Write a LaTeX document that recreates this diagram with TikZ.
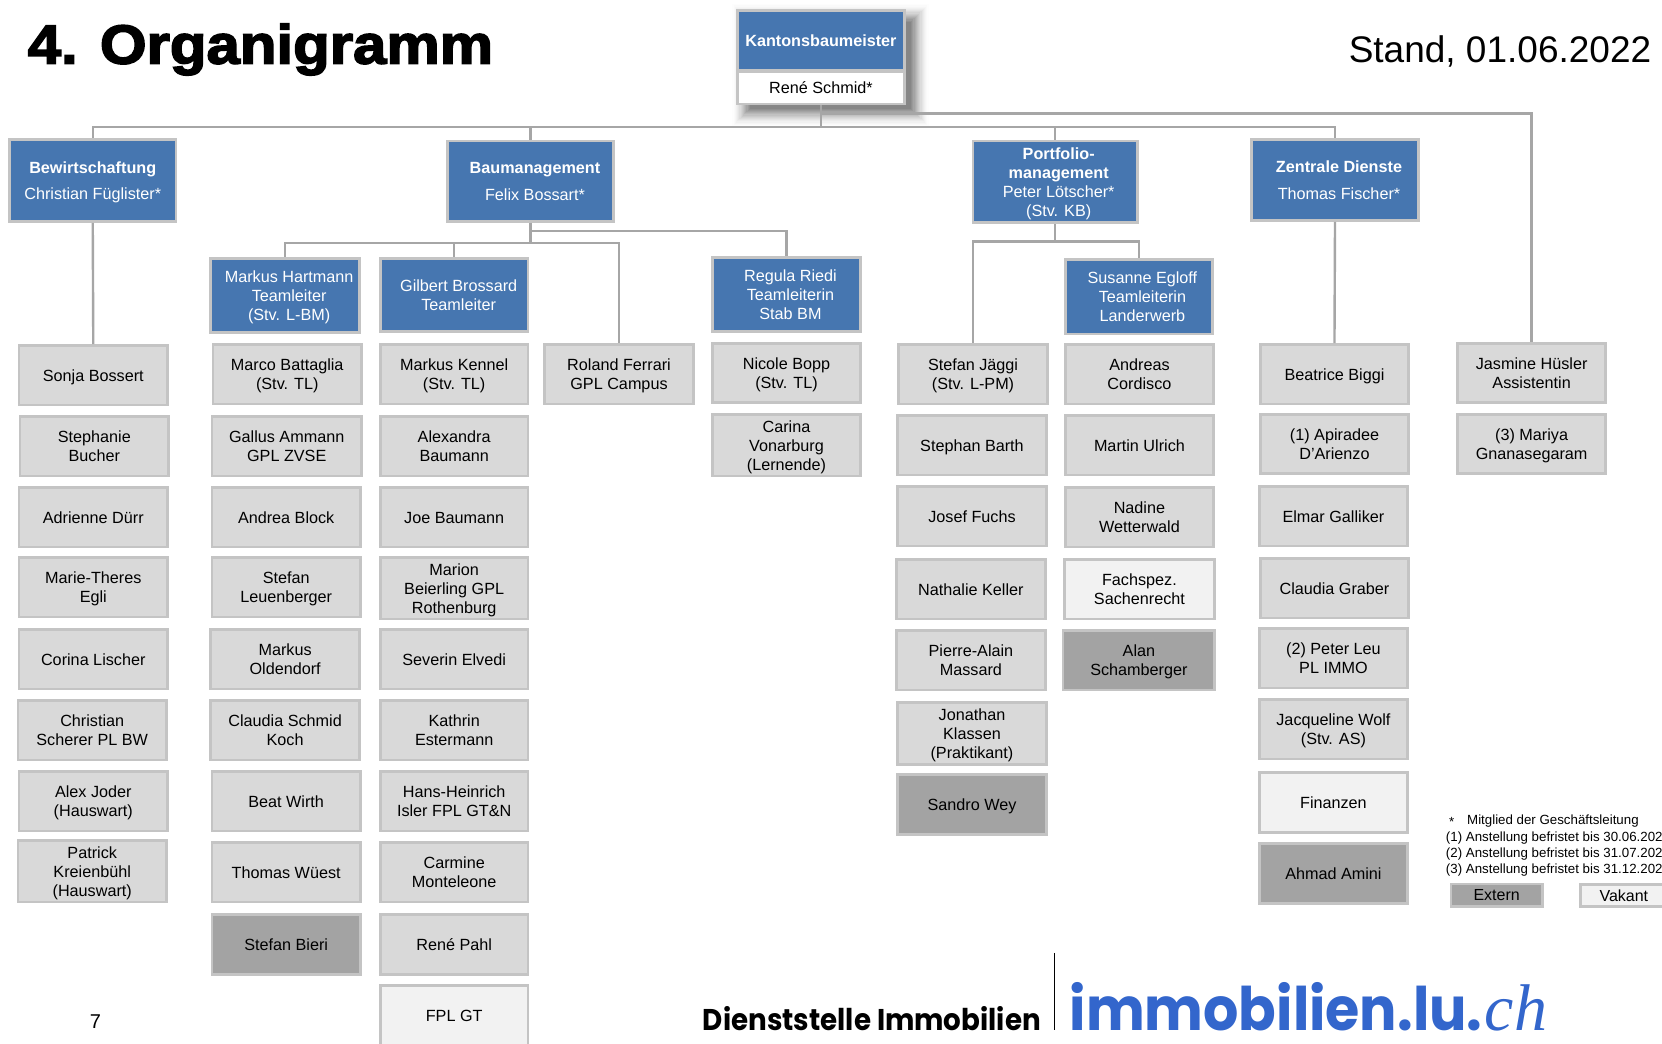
\documentclass[tikz,border=0pt]{standalone}
\usepackage{fontspec}
\setmainfont{Liberation Sans}
\newfontfamily\titlefont{Liberation Sans}[FakeStretch=1.09,FakeBold=3]
\newfontfamily\logofont{Poppins}[FakeStretch=0.925]
\newfontfamily\logoserif{Liberation Serif}
\definecolor{orgblue}{HTML}{4676B0}
\definecolor{orgedge}{HTML}{C4C4C4}
\definecolor{orggrey}{HTML}{D9D9D9}
\definecolor{orgdark}{HTML}{A3A3A3}
\definecolor{orgpale}{HTML}{F2F2F2}
\definecolor{orgline}{HTML}{A6A6A6}
\definecolor{logoblue}{HTML}{3366CC}
\def\toff{0}
\tikzset{
  pbase/.style={draw=orgedge,line width=2.8pt,inner sep=0pt,
    font=\fontsize{16.2}{19.1}\selectfont,text=black},
  gbox/.style={pbase,fill=orggrey},
  bbox/.style={pbase,fill=orgblue,text=white},
  xbox/.style={pbase,fill=orgdark},
  vbox/.style={pbase,fill=orgpale},
  wbox/.style={pbase,fill=white},
  off/.code={\def\toff{#1}},
  conn/.style={draw=orgline,line width=2.4pt},
  legend/.style={inner sep=0pt,anchor=west,font=\fontsize{13.3}{16}\selectfont,text=black}
}
% #1 style, #2 name, #3-#6 outer edges x1,y1,x2,y2, #7 text
\newcommand\pb[7]{%
  \pgfmathsetmacro\pbw{(#5-#3)*1.05995-2.0}%
  \pgfmathsetmacro\pbh{(#6-#4)*1.05995-2.0}%
  \node[#1,minimum width=\pbw pt,minimum height=\pbh pt] (#2)
    at ({(#3+#5)/2},{(#4+#6)/2})
    {\vbox{\kern4.2pt\hbox{\kern\toff pt\begin{tabular}{@{}c@{}}#7\end{tabular}}}};}
\begin{document}
\begin{tikzpicture}[x=1.05995pt,y=-1.05995pt]
\useasboundingbox (0,0) rectangle (1568,984.9);
\clip (0,0) rectangle (1568,984.9);
\fill[white] (0,0) rectangle (1568,984.9);
% shadow of the top box
\foreach \i in {0,...,15}{
  \pgfmathsetmacro\sop{.008+.004*\i}
  \fill[black,opacity=\sop] ({691+\i*1.1},{4+\i*1.1}) rectangle ({876-\i*1.1},{119-\i*1.1});
}
% title / header
\node[inner sep=0pt,anchor=base west,font=\titlefont\bfseries\fontsize{55}{60}\selectfont] (title) at (26,60) {4. Organigramm};
\node[inner sep=0pt,anchor=east,font=\fontsize{37}{44}\selectfont] (stand) at (1558,49) {Stand, 01.06.2022};
% top box
\pb{bbox,font=\bfseries\fontsize{16.2}{19.1}\selectfont}{kb}{695}{9}{854}{67}{Kantonsbaumeister}
\pb{wbox}{kbn}{695}{67}{854}{99}{René Schmid*}
% heads
\pb{bbox}{bew}{8}{131}{167}{210}{\textbf{Bewirtschaftung}\\[7.5pt]Christian Füglister*}
\pb{bbox,off=9}{baum}{421}{132}{580}{210}{\textbf{Baumanagement}\\[7.5pt]Felix Bossart*}
\pb{bbox,off=7}{port}{917}{132}{1074}{211}{\textbf{Portfolio-}\\\textbf{management}\\Peter Lötscher*\\(Stv. KB)}
\pb{bbox,off=8}{zd}{1180}{131}{1339}{209}{\textbf{Zentrale Dienste}\\[7.5pt]Thomas Fischer*}
\pb{bbox,off=8}{hart}{198}{243}{340}{315}{Markus Hartmann\\Teamleiter\\(Stv. L-BM)}
\pb{bbox,off=9}{gil}{358}{243}{499}{314}{Gilbert Brossard\\Teamleiter}
\pb{bbox,off=8}{reg}{671}{242}{813}{314}{Regula Riedi\\Teamleiterin\\Stab BM}
\pb{bbox,off=7}{sus}{1004}{244}{1145}{316}{Susanne Egloff\\Teamleiterin\\Landerwerb}
% column 1
\pb{gbox}{c1a}{17}{325}{159}{383}{Sonja Bossert}
\pb{gbox}{c1b}{18}{392}{160}{450}{Stephanie\\Bucher}
\pb{gbox}{c1c}{17}{459}{159}{517}{Adrienne Dürr}
\pb{gbox}{c1d}{17}{525}{159}{583}{Marie-Theres\\Egli}
\pb{gbox}{c1e}{17}{593}{159}{651}{Corina Lischer}
\pb{gbox}{c1f}{16}{660}{158}{718}{Christian\\Scherer PL BW}
\pb{gbox}{c1g}{17}{727}{159}{785}{Alex Joder\\(Hauswart)}
\pb{gbox}{c1h}{16}{793}{158}{851}{Patrick\\Kreienbühl\\(Hauswart)}
% column 2
\pb{gbox}{c2a}{200}{324}{342}{382}{Marco Battaglia\\(Stv. TL)}
\pb{gbox}{c2b}{199}{392}{342}{450}{Gallus Ammann\\GPL ZVSE}
\pb{gbox}{c2c}{199}{459}{341}{517}{Andrea Block}
\pb{gbox}{c2d}{199}{525}{341}{583}{Stefan\\Leuenberger}
\pb{gbox}{c2e}{198}{593}{340}{651}{Markus\\Oldendorf}
\pb{gbox}{c2f}{198}{660}{340}{718}{Claudia Schmid\\Koch}
\pb{gbox}{c2g}{199}{727}{341}{785}{Beat Wirth}
\pb{gbox}{c2h}{199}{794}{341}{852}{Thomas Wüest}
\pb{xbox}{c2i}{199}{862}{341}{920}{Stefan Bieri}
% column 3
\pb{gbox}{c3a}{358}{324}{499}{382}{Markus Kennel\\(Stv. TL)}
\pb{gbox}{c3b}{358}{392}{499}{450}{Alexandra\\Baumann}
\pb{gbox}{c3c}{358}{459}{499}{517}{Joe Baumann}
\pb{gbox}{c3d}{358}{526}{499}{584}{Marion\\Beierling GPL\\Rothenburg}
\pb{gbox}{c3e}{358}{593}{499}{651}{Severin Elvedi}
\pb{gbox}{c3f}{358}{660}{499}{718}{Kathrin\\Estermann}
\pb{gbox}{c3g}{358}{727}{499}{785}{Hans-Heinrich\\Isler FPL GT\&N}
\pb{gbox}{c3h}{358}{794}{499}{852}{Carmine\\Monteleone}
\pb{gbox}{c3i}{358}{862}{499}{920}{René Pahl}
\pb{vbox}{c3j}{358}{929}{499}{987}{FPL GT}
% column 4, 5
\pb{gbox}{c4a}{513}{324}{655}{382}{Roland Ferrari\\GPL Campus}
\pb{gbox}{c5a}{671}{323}{813}{381}{Nicole Bopp\\(Stv. TL)}
\pb{gbox}{c5b}{671}{391}{813}{449}{Carina\\Vonarburg\\(Lernende)}
% column 6
\pb{gbox}{c6a}{847}{324}{989}{382}{Stefan Jäggi\\(Stv. L-PM)}
\pb{gbox}{c6b}{846}{391}{988}{449}{Stephan Barth}
\pb{gbox}{c6c}{846}{458}{988}{516}{Josef Fuchs}
\pb{gbox}{c6d}{845}{527}{987}{585}{Nathalie Keller}
\pb{gbox}{c6e}{845}{594}{987}{652}{Pierre-Alain\\Massard}
\pb{gbox}{c6f}{846}{663}{988}{721}{Jonathan\\Klassen\\(Praktikant)}
\pb{xbox}{c6g}{846}{730}{988}{788}{Sandro Wey}
% column 7
\pb{gbox}{c7a}{1004}{324}{1146}{382}{Andreas\\Cordisco}
\pb{gbox}{c7b}{1004}{391}{1146}{449}{Martin Ulrich}
\pb{gbox}{c7c}{1004}{459}{1146}{517}{Nadine\\Wetterwald}
\pb{vbox}{c7d}{1003}{527}{1147}{585}{Fachspez.\\Sachenrecht}
\pb{xbox}{c7e}{1002}{594}{1147}{652}{Alan\\Schamberger}
% column 8
\pb{gbox}{c8a}{1188}{324}{1330}{382}{Beatrice Biggi}
\pb{gbox}{c8b}{1188}{390}{1330}{448}{(1) Apiradee\\D'Arienzo}
\pb{gbox}{c8c}{1187}{458}{1329}{516}{Elmar Galliker}
\pb{gbox}{c8d}{1188}{526}{1330}{584}{Claudia Graber}
\pb{gbox}{c8e}{1187}{592}{1329}{650}{(2) Peter Leu\\PL IMMO}
\pb{gbox}{c8f}{1187}{659}{1329}{717}{Jacqueline Wolf\\(Stv. AS)}
\pb{vbox}{c8g}{1187}{728}{1329}{786}{Finanzen}
\pb{xbox}{c8h}{1187}{795}{1329}{853}{Ahmad Amini}
% column 9
\pb{gbox}{c9a}{1374}{323}{1516}{381}{Jasmine Hüsler\\Assistentin}
\pb{gbox}{c9b}{1374}{390}{1516}{448}{(3) Mariya\\Gnanasegaram}
% legend
\node[legend] (l0a) at (1367,775) {*};
\node[legend] (l0) at (1384,775) {Mitglied der Geschäftsleitung};
\node[legend] (l1) at (1364,791) {(1) Anstellung befristet bis 30.06.202};
\node[legend] (l2) at (1364,806) {(2) Anstellung befristet bis 31.07.202};
\node[legend] (l3) at (1364,821) {(3) Anstellung befristet bis 31.12.202};
\pb{xbox,font=\fontsize{16}{18}\selectfont}{ext}{1368}{834}{1456}{855}{Extern}
\pb{vbox,font=\fontsize{16}{18}\selectfont}{vak}{1490}{835}{1574}{855}{Vakant}
% footer
\node[inner sep=0pt,font=\fontsize{20}{22}\selectfont] (page) at (90,964) {7};
\node[inner sep=0pt,anchor=base west,font=\logofont\bfseries\fontsize{30}{36}\selectfont] (dst) at (663,972) {Dienststelle Immobilien};
\node[inner sep=0pt,anchor=base west,text=logoblue,font=\logofont\bfseries\fontsize{60}{70}\selectfont] (lu) at (1009,972) {immobilien.lu.\kern2pt};
\node[inner sep=0pt,anchor=base west,text=logoblue,font=\logoserif\itshape\fontsize{66}{70}\selectfont] (ch) at (lu.base east) {ch};
\coordinate (rt) at (995,899);
\coordinate (rb) at (995,972);
\draw[black,line width=1.2pt] (rt) -- (rb);
% connectors
\coordinate (busTop) at (0,107);
\coordinate (busMain) at (0,120);
\coordinate (busBM) at (0,229);
\coordinate (busReg) at (0,218);
\coordinate (busPM) at (0,228);
\draw[conn] (kbn.south) -- (kbn.south |- busMain) -| (bew.north);
\draw[conn] (kbn.south |- busMain) -| (zd.north);
\draw[conn] (baum.north |- busMain) -- (baum.north);
\draw[conn] (port.north |- busMain) -- (port.north);
\draw[conn] (kbn.south |- busTop) -| (c9a.north);
\draw[conn] (bew.south) -- (c1a.north);
\draw[conn] (baum.south) -- (baum.south |- busBM) -| (hart.north);
\draw[conn] (baum.south |- busBM) -| (c4a.north);
\draw[conn] (gil.north |- busBM) -- (gil.north);
\draw[conn] (baum.south |- busReg) -| (reg.north);
\draw[conn] (port.south) -- (port.south |- busPM) -| (c6a.north);
\draw[conn] (port.south |- busPM) -| (sus.north);
\draw[conn] (zd.south) -- (c8a.north);
\end{tikzpicture}
\end{document}
